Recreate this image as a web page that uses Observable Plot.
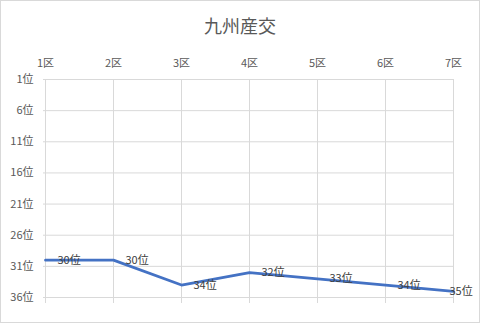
<!DOCTYPE html>
<html><head><meta charset="utf-8">
<script src="https://cdn.jsdelivr.net/npm/d3@7"></script>
<script src="https://cdn.jsdelivr.net/npm/@observablehq/plot@0.6"></script>
<style>
body{margin:0;background:#fff;}
#chart{position:relative;width:480px;height:323px;outline:1px solid #d9d9d9;outline-offset:-1px;font-family:"Noto Sans CJK JP",sans-serif;background:#fff;}
#title{height:44px;line-height:50px;text-align:center;font-size:18px;color:#595959;}
#chart svg{display:block;}
</style></head><body>
<div id="chart"><div id="title"></div></div>
<script>
const title = "九州産交";
const sections = ["1区", "2区", "3区", "4区", "5区", "6区", "7区"];
const ranks = [30, 30, 34, 32, 33, 34, 35];
const rankTicks = [1, 6, 11, 16, 21, 26, 31, 36];
const rankSuffix = "位";

document.getElementById("title").textContent = title;
const data = sections.map((s, i) => ({section: s, rank: ranks[i], last: i === sections.length - 1}));

const chart = Plot.plot({
  width: 480,
  height: 279,
  marginTop: 35,
  marginBottom: 26,
  marginLeft: 43,
  marginRight: 26,
  style: {fontFamily: '"Noto Sans CJK JP", sans-serif', fontSize: "11px", color: "#595959", background: "transparent"},
  x: {type: "point", domain: sections, padding: 0},
  y: {domain: [1, 36], reverse: true},
  marks: [
    Plot.ruleY(rankTicks, {stroke: "#d9d9d9", strokeOpacity: 1}),
    Plot.ruleX(sections, {stroke: "#d9d9d9", strokeOpacity: 1, insetBottom: -6}),
    Plot.axisX({anchor: "top", tickSize: 0, tickPadding: 13, label: null}),
    Plot.axisY({ticks: rankTicks, tickFormat: d => d + rankSuffix, tickSize: 0, tickPadding: 10, label: null}),
    Plot.line(data, {x: "section", y: "rank", stroke: "#4472C4", strokeWidth: 2.75, strokeLinejoin: "round"}),
    Plot.text(data.filter(d => !d.last), {x: "section", y: "rank", text: d => d.rank + rankSuffix, dx: 12, textAnchor: "start", fill: "#404040", fontSize: 11}),
    Plot.text(data.filter(d => d.last), {x: "section", y: "rank", text: d => d.rank + rankSuffix, dx: -4, textAnchor: "start", fill: "#404040", fontSize: 11})
  ]
});
document.getElementById("chart").appendChild(chart);
</script>
</body></html>
